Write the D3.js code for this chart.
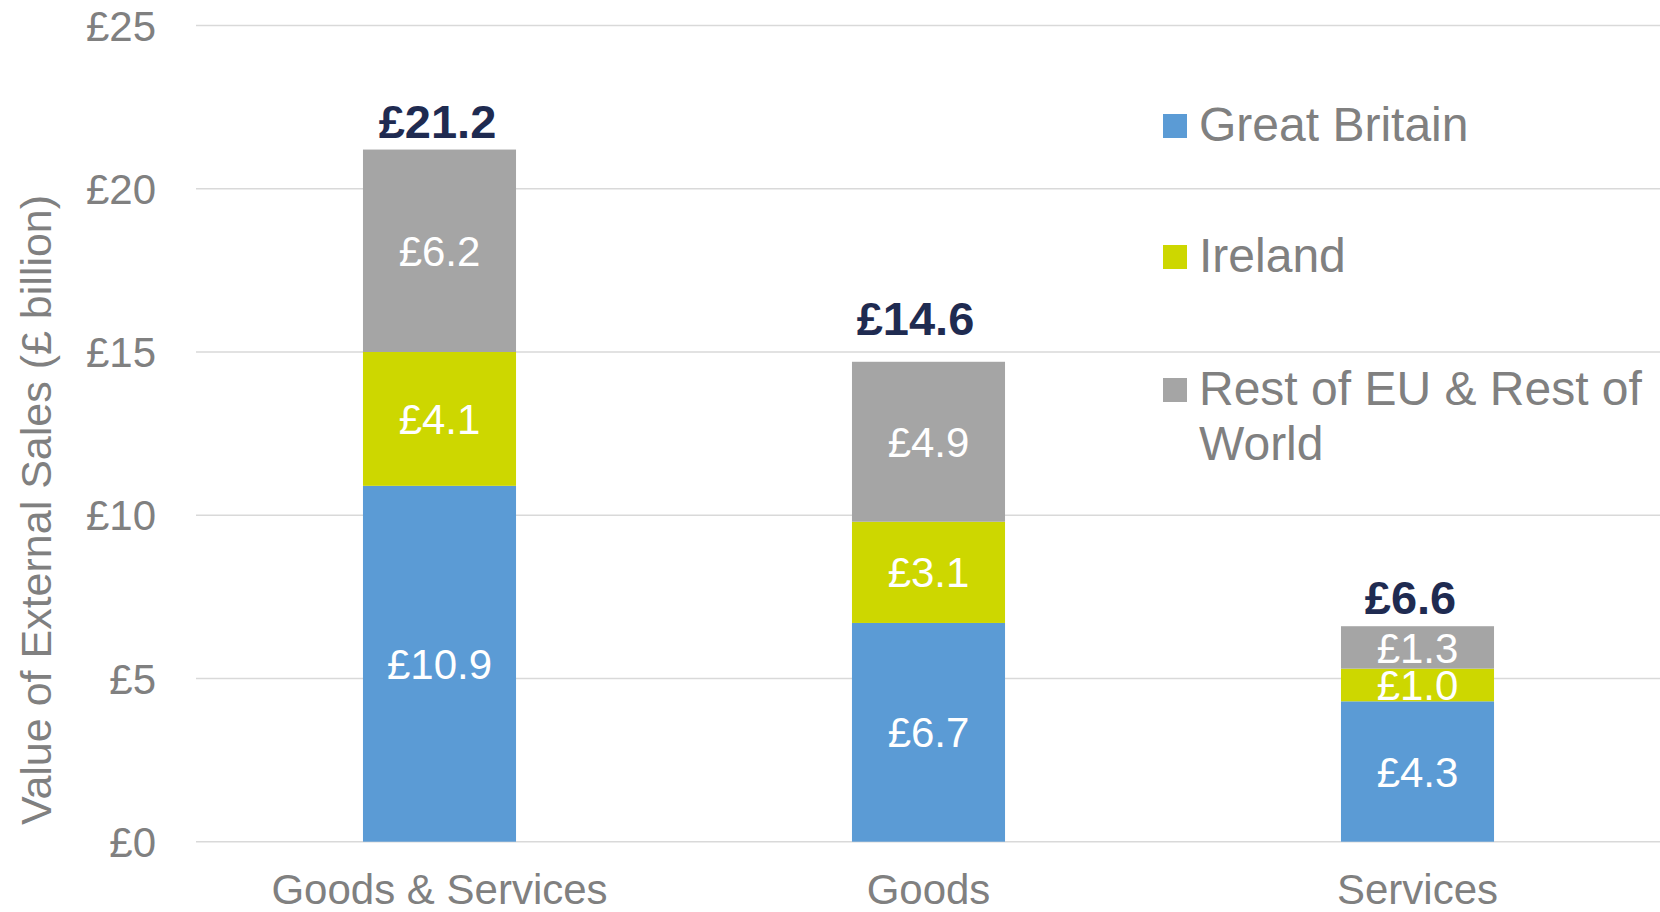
<!DOCTYPE html>
<html>
<head>
<meta charset="utf-8">
<script src="https://cdn.jsdelivr.net/npm/d3@7"></script>
<style>
    html, body { margin: 0; padding: 0; background: #fff; }
    svg text { font-family: "Liberation Sans", Arial, sans-serif; }
</style>
</head>
<body>
<div id="chart"></div>
<script>
// data
let categories = ["Goods & Services", "Goods", "Services"];
let seriesNames = ["Great Britain", "Ireland", "Rest of EU & Rest of World"];
let greatBritain = [10.9, 6.7, 4.3];
let ireland = [4.1, 3.1, 1.0];
let restOfWorld = [6.2, 4.9, 1.3];
let totals = [21.2, 14.6, 6.6];
let yTicks = [0, 5, 10, 15, 20, 25];
let yTitle = "Value of External Sales (£ billion)";

let COLORS = ["#5B9BD5", "#CDD700", "#A5A5A5"];
let WIDTH = 1660, HEIGHT = 912;
// the total labels were nudged by hand in the original
let TOTAL_NUDGE = [[-2, 0], [-13, -15], [-7, 0]];

let rows = categories.map(function(c, i){
    return {category: c, gb: greatBritain[i], ie: ireland[i], row: restOfWorld[i], total: totals[i]};
});
let keys = ["gb", "ie", "row"];

let svg = d3.select("#chart")
    .append("svg")
    .attr("width", WIDTH)
    .attr("height", HEIGHT);

let yScale = d3.scaleLinear()
    .domain([0, 25])
    .range([841.7, 25.5]);

let xScale = d3.scaleBand()
    .domain(categories)
    .range([195, 1662])
    .paddingInner(0.687)
    .paddingOuter(0.3435);

// gridlines
svg.append("g")
    .selectAll("line")
    .data(yTicks)
    .enter().append("line")
    .attr("x1", 196)
    .attr("x2", WIDTH)
    .attr("y1", function(d){ return yScale(d); })
    .attr("y2", function(d){ return yScale(d); })
    .attr("stroke", "#d9d9d9")
    .attr("stroke-width", 1.6);

// y axis labels
let yAxis = svg.append("g")
    .attr("transform", "translate(156,0)")
    .call(d3.axisLeft(yScale).tickValues(yTicks).tickSize(0).tickPadding(0)
        .tickFormat(function(d){ return "£" + d; }));
yAxis.select(".domain").remove();
yAxis.selectAll("text")
    .attr("fill", "#808080")
    .style("font-size", "42px")
    .attr("dy", "0.35em");

// x axis labels
let xAxis = svg.append("g")
    .attr("transform", "translate(0,842)")
    .call(d3.axisBottom(xScale).tickSize(0).tickPadding(0));
xAxis.select(".domain").remove();
xAxis.selectAll("text")
    .attr("fill", "#808080")
    .style("font-size", "42px")
    .attr("y", 62)
    .attr("dy", 0);

// y title
svg.append("text")
    .attr("transform", "translate(51,510) rotate(-90)")
    .attr("text-anchor", "middle")
    .attr("fill", "#808080")
    .style("font-size", "43px")
    .text(yTitle);

// stacked bars
let stacked = d3.stack().keys(keys)(rows);

let layers = svg.append("g")
    .selectAll("g")
    .data(stacked)
    .enter().append("g")
    .attr("fill", function(d, i){ return COLORS[i]; });

layers.selectAll("rect")
    .data(function(d){ return d; })
    .enter().append("rect")
    .attr("x", function(d){ return xScale(d.data.category); })
    .attr("width", xScale.bandwidth())
    .attr("y", function(d){ return yScale(d[1]); })
    .attr("height", function(d){ return yScale(d[0]) - yScale(d[1]); });

layers.selectAll("text")
    .data(function(d){ return d; })
    .enter().append("text")
    .attr("x", function(d){ return xScale(d.data.category) + xScale.bandwidth() / 2; })
    .attr("y", function(d){ return (yScale(d[0]) + yScale(d[1])) / 2; })
    .attr("dy", "0.36em")
    .attr("text-anchor", "middle")
    .attr("fill", "#ffffff")
    .style("font-size", "42px")
    .text(function(d){ return "£" + (d[1] - d[0]).toFixed(1); });

// totals
svg.append("g")
    .selectAll("text")
    .data(rows)
    .enter().append("text")
    .attr("x", function(d, i){ return xScale(d.category) + xScale.bandwidth() / 2 + TOTAL_NUDGE[i][0]; })
    .attr("y", function(d, i){ return yScale(d.gb + d.ie + d.row) - 12 + TOTAL_NUDGE[i][1]; })
    .attr("text-anchor", "middle")
    .attr("fill", "#1F2B51")
    .style("font-size", "47px")
    .style("font-weight", "bold")
    .text(function(d){ return "£" + d.total.toFixed(1); });

// legend
let legendY = [126, 257, 390];
let legend = svg.append("g")
    .selectAll("g")
    .data(seriesNames)
    .enter().append("g")
    .attr("transform", function(d, i){ return "translate(1163," + legendY[i] + ")"; });

legend.append("rect")
    .attr("x", 0)
    .attr("y", -12)
    .attr("width", 24)
    .attr("height", 24)
    .attr("fill", function(d, i){ return COLORS[i]; });

legend.append("text")
    .attr("x", 36)
    .attr("y", -2)
    .attr("fill", "#808080")
    .style("font-size", "48px")
    .each(function(d){
        let words = d.split(" ");
        let text = d3.select(this);
        let line = [];
        let tspan = text.append("tspan").attr("x", 36).attr("dy", "0.36em");
        words.forEach(function(w){
            line.push(w);
            tspan.text(line.join(" "));
            if(tspan.node().getComputedTextLength() > 455 && line.length > 1){
                line.pop();
                tspan.text(line.join(" "));
                line = [w];
                tspan = text.append("tspan").attr("x", 36).attr("dy", "1.15em").text(w);
            }
        });
    });
</script>
</body>
</html>
